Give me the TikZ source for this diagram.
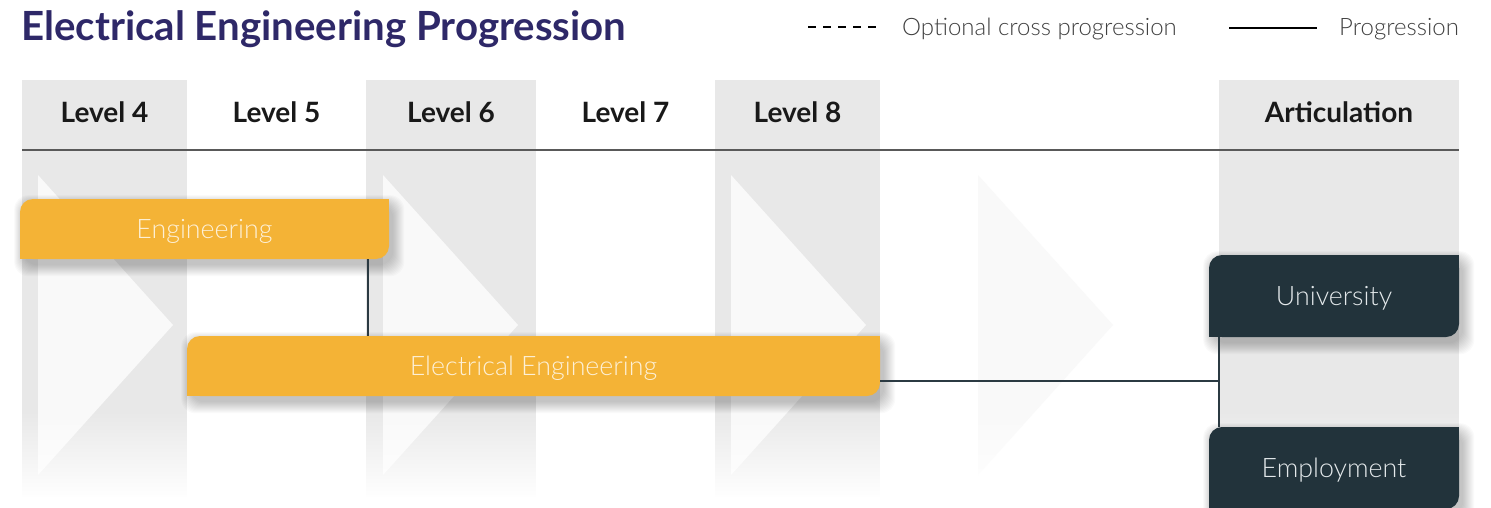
\documentclass[tikz,border=0pt]{standalone}
\usepackage{fontspec}
\setmainfont{Lato}
\newfontfamily\lightfont{Lato Light}
\usetikzlibrary{fadings}
\pgfdeclarelayer{bg}
\pgfdeclarelayer{shadow}
\pgfsetlayers{bg,shadow,main}
\definecolor{colgray}{HTML}{E8E8E8}
\definecolor{chev}{HTML}{F9F9F9}
\definecolor{orng}{HTML}{F4B336}
\definecolor{dark}{HTML}{22333B}
\definecolor{ttl}{HTML}{2E2868}
\definecolor{conncol}{HTML}{2B3A42}
\definecolor{cream}{HTML}{FDF0D6}
\definecolor{pale}{HTML}{E4E9EB}
\tikzset{
  hdr/.style={font=\bfseries\fontsize{28}{32}\selectfont, text=black!90, anchor=center, text height=20pt, text depth=0pt, inner sep=0pt},
  obox/.style={fill=orng, rounded corners=13pt, inner sep=0pt, text=cream, font=\lightfont\fontsize{26.8}{30}\selectfont, text height=19.2pt, text depth=0pt},
  dbox/.style={fill=dark, rounded corners=13pt, inner sep=0pt, text=pale, font=\lightfont\fontsize{26.8}{30}\selectfont, text height=19.2pt, text depth=0pt},
  conn/.style={draw=conncol, line width=1.8pt},
  legtext/.style={font=\lightfont\fontsize{24}{28}\selectfont, text=black!75, anchor=west, inner sep=0pt, text height=17.2pt, text depth=0pt},
  chevron/.style={fill=chev},
  shadowlayer/.style={fill=black, opacity=0.018, rounded corners=14pt},
}
\newcommand\castshadow[1]{%
  \begin{pgfonlayer}{shadow}
  \foreach \i in {1,...,12}
    \fill[shadowlayer] ([shift={(4-0.8*\i,6-0.8*\i)}]#1.north west) rectangle ([shift={(3+\i,5+\i)}]#1.south east);
  \end{pgfonlayer}}
\begin{document}
\begin{tikzpicture}[x=1pt,y=-1pt]
\useasboundingbox (0,0) rectangle (1491,508);
\begin{pgfonlayer}{bg}
\fill[white] (0,0) rectangle (1491,508);
% columns
\foreach \a/\b in {22/187,366/536,715/880,1219/1459}
  \fill[colgray] (\a,80) rectangle (\b,500);
% chevrons
\foreach \l in {38,383,731,978}
  \fill[chevron] (\l,175) -- (\l+135,325) -- (\l,475) -- cycle;
% bottom fade
\fill[white, path fading=north] (0,410) rectangle (1491,498);
\fill[white] (0,497) rectangle (1491,508);
\end{pgfonlayer}
% header line
\draw[black!65, line width=1.5pt] (22,150) -- (1459,150);
% headers
\node[hdr] (h4) at (104.5,113) {Level 4};
\node[hdr] (h5) at (276.5,113) {Level 5};
\node[hdr] (h6) at (451,113) {Level 6};
\node[hdr] (h7) at (625.5,113) {Level 7};
\node[hdr] (h8) at (797.5,113) {Level 8};
\node[hdr] (ha) at (1339,113) {Articulation};
% title
\node[anchor=west, inner sep=0pt, text=ttl, font=\bfseries\fontsize{40.2}{46}\selectfont, text height=28.8pt, text depth=0pt] (title) at (21,26) {Electrical Engineering Progression};
% legend
\coordinate (d1) at (808,27);
\coordinate (d2) at (876,27);
\draw[black, line width=2pt, dash pattern=on 8pt off 7pt] (d1) -- (d2);
\node[legtext] (lt1) at (902,27) {Optional cross progression};
\coordinate (s1) at (1229,28);
\coordinate (s2) at (1317,28);
\draw[black, line width=2pt] (s1) -- (s2);
\node[legtext] (lt2) at (1339,27) {Progression};
% boxes
\node[obox, minimum width=369pt, minimum height=60pt] (eng) at (204.5,229) {Engineering};
\node[obox, minimum width=693pt, minimum height=60pt] (elec) at (533.5,366) {Electrical Engineering};
\node[dbox, minimum width=250pt, minimum height=82pt] (uni) at (1334,296) {University};
\node[dbox, minimum width=250pt, minimum height=82pt] (emp) at (1334,468) {Employment};
\castshadow{eng}
\castshadow{elec}
\castshadow{uni}
\castshadow{emp}
% square corners
\fill[orng] (eng.north east) rectangle ++(-14,14);
\fill[orng] (eng.south west) rectangle ++(14,-14);
\fill[orng] (elec.north east) rectangle ++(-14,14);
\fill[orng] (elec.south west) rectangle ++(14,-14);
\fill[dark] (uni.north east) rectangle ++(-14,14);
\fill[dark] (uni.south west) rectangle ++(14,-14);
\fill[dark] (emp.north east) rectangle ++(-14,14);
\fill[dark] (emp.south west) rectangle ++(14,-14);
% connectors
\coordinate (k1) at (368,259);
\draw[conn] (k1) -- (k1 |- elec.north);
\coordinate (j) at (1219,381);
\draw[conn] (elec.east |- j) -- (j);
\draw[conn] (uni.south -| j) -- (emp.north -| j);
\end{tikzpicture}
\end{document}
